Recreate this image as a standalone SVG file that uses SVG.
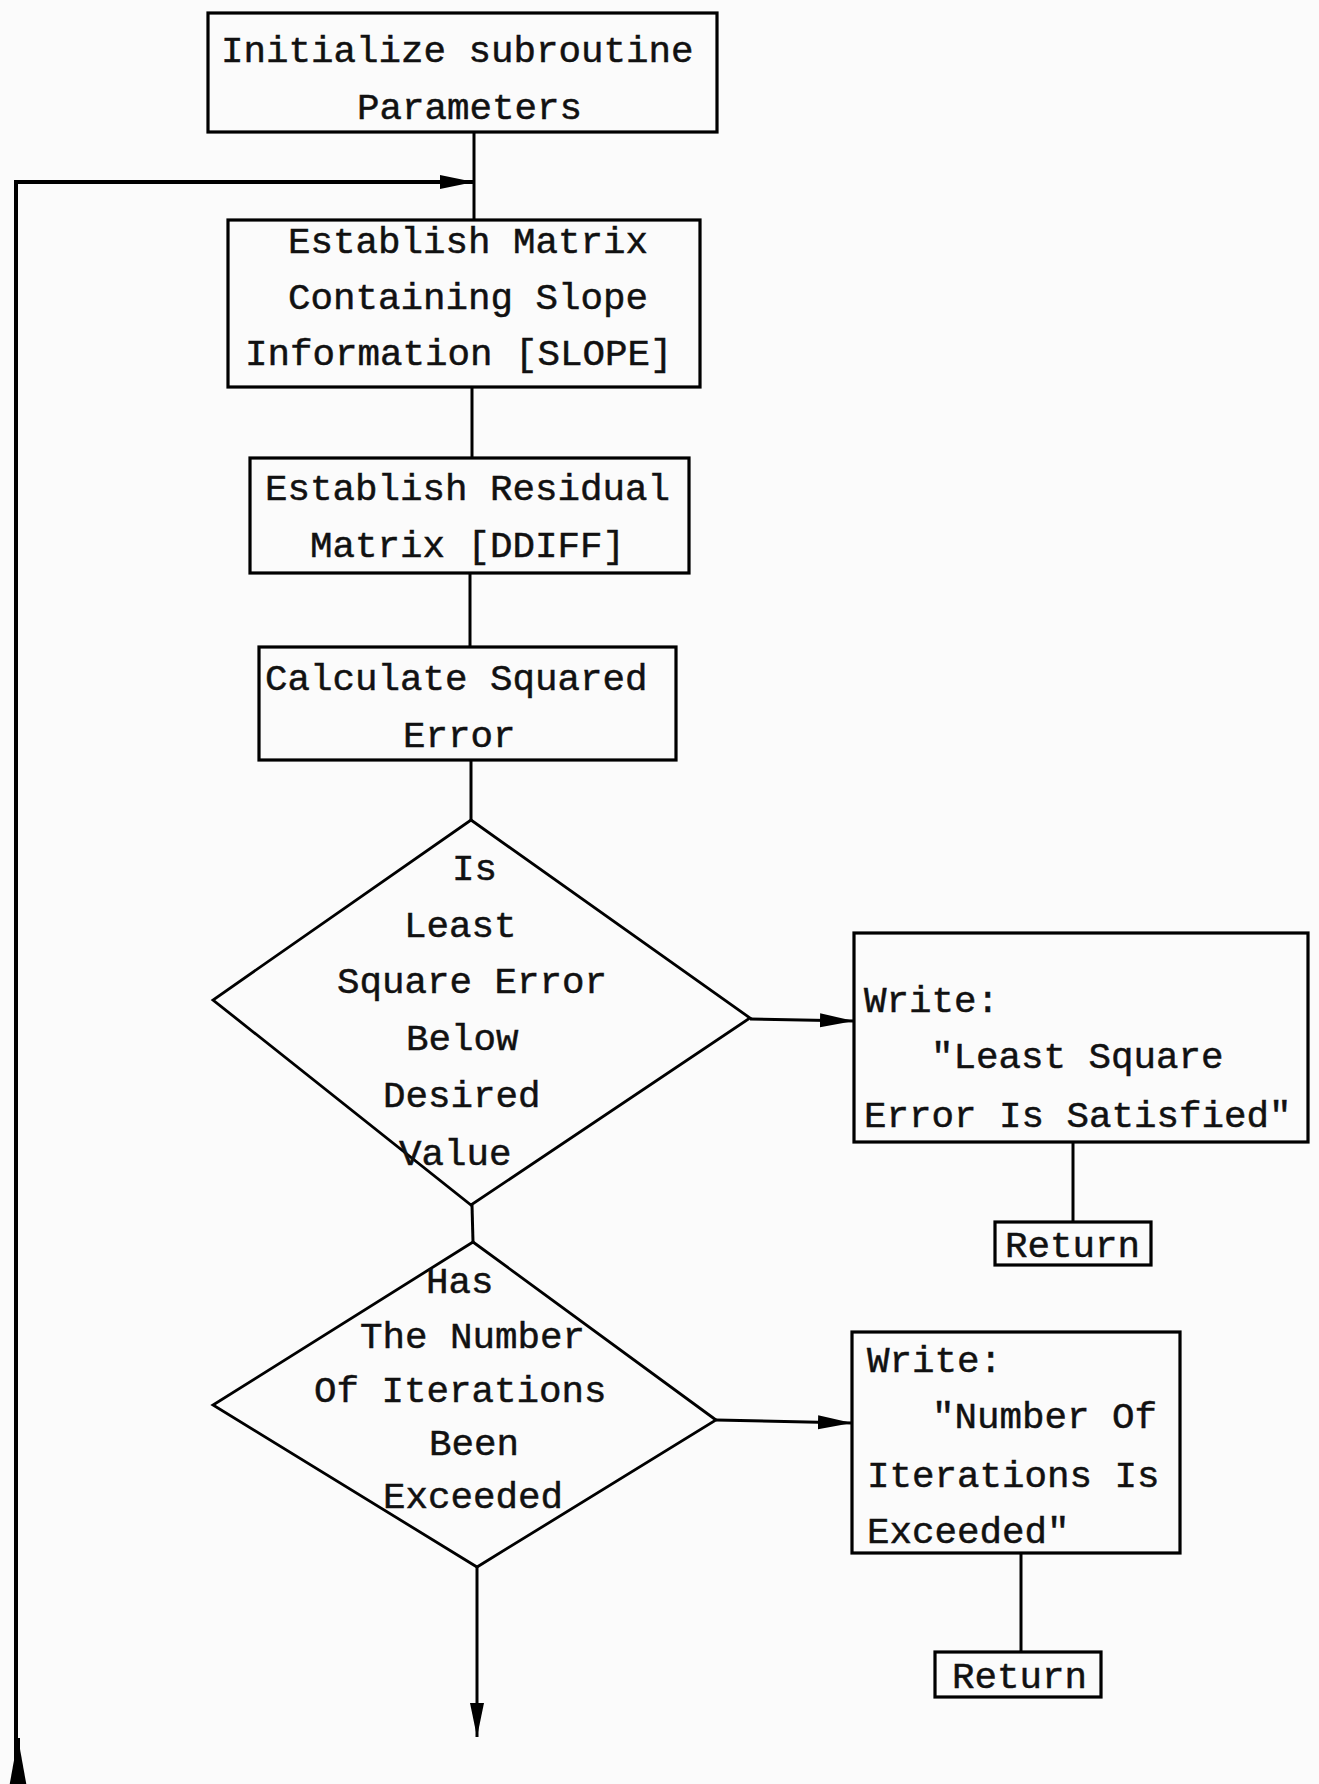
<svg xmlns="http://www.w3.org/2000/svg" width="1319" height="1784" viewBox="0 0 1319 1784">
<defs>
<marker id="arr" markerUnits="userSpaceOnUse" markerWidth="36" markerHeight="16" refX="34" refY="7" orient="auto">
<path d="M0,0 L34,7 L0,14 z" fill="#000"/>
</marker>
<marker id="arrBig" markerUnits="userSpaceOnUse" markerWidth="52" markerHeight="20" refX="50" refY="9" orient="auto">
<path d="M0,0 L50,9 L0,18 z" fill="#000"/>
</marker>
</defs>
<style>
.box{fill:none;stroke:#000;stroke-width:3.2}
.dia{fill:none;stroke:#000;stroke-width:2.8}
.ln{fill:none;stroke:#000;stroke-width:3}
text{font-family:"Liberation Mono","DejaVu Sans Mono",monospace;font-size:37.5px;fill:#111;stroke:#111;stroke-width:0.5}
</style>
<rect x="0" y="0" width="1319" height="1784" fill="#fbfbfb"/>

<g id="connectors">
<path class="ln" d="M474,132 L474,220"/>
<path class="ln" d="M472,387 L472,458"/>
<path class="ln" d="M470,573 L470,647"/>
<path class="ln" d="M471,760 L471,820"/>
<path class="ln" d="M472,1205 L473,1242"/>
<path class="ln" d="M750,1019 L854,1021" marker-end="url(#arr)"/>
<path class="ln" d="M716,1420 L852,1423" marker-end="url(#arr)"/>
<path class="ln" d="M1073,1142 L1073,1222"/>
<path class="ln" d="M1021,1553 L1021,1652"/>
<path class="ln" d="M477,1567 L477,1737" marker-end="url(#arr)"/>
<path class="ln" style="stroke-width:4" d="M16,1784 L16,182 L474,182" marker-end="url(#arr)"/>
<path class="ln" style="stroke-width:4" d="M18,1790 L18,1738" marker-end="url(#arrBig)"/>
</g>

<g id="init">
<rect class="box" x="208" y="13" width="509" height="119"/>
<text x="221" y="62">Initialize subroutine</text>
<text x="357" y="119">Parameters</text>
</g>

<g id="slope">
<rect class="box" x="228" y="220" width="472" height="167"/>
<text x="288" y="253">Establish Matrix</text>
<text x="288" y="309">Containing Slope</text>
<text x="245" y="365">Information [SLOPE]</text>
</g>

<g id="residual">
<rect class="box" x="250" y="458" width="439" height="115"/>
<text x="265" y="500">Establish Residual</text>
<text x="310" y="557">Matrix [DDIFF]</text>
</g>

<g id="squared">
<rect class="box" x="259" y="647" width="417" height="113"/>
<text x="265" y="690">Calculate Squared</text>
<text x="403" y="747">Error</text>
</g>

<g id="decision1">
<polygon class="dia" points="471,820 750,1018 471,1205 213,1000"/>
<text x="452" y="880">Is</text>
<text x="404" y="937">Least</text>
<text x="337" y="993">Square Error</text>
<text x="406" y="1050">Below</text>
<text x="383" y="1107">Desired</text>
<text x="399" y="1165">Value</text>
</g>

<g id="decision2">
<polygon class="dia" points="473,1242 716,1420 477,1567 213,1405"/>
<text x="426" y="1293">Has</text>
<text x="360" y="1348">The Number</text>
<text x="314" y="1402">Of Iterations</text>
<text x="429" y="1455">Been</text>
<text x="383" y="1508">Exceeded</text>
</g>

<g id="write1">
<rect class="box" x="854" y="933" width="454" height="209"/>
<text x="864" y="1012">Write:</text>
<text x="931" y="1068">"Least Square</text>
<text x="864" y="1127">Error Is Satisfied"</text>
</g>

<g id="return1">
<rect class="box" x="995" y="1222" width="156" height="43"/>
<text x="1005" y="1257">Return</text>
</g>

<g id="write2">
<rect class="box" x="852" y="1332" width="328" height="221"/>
<text x="867" y="1372">Write:</text>
<text x="932" y="1428">"Number Of</text>
<text x="867" y="1487">Iterations Is</text>
<text x="867" y="1543">Exceeded"</text>
</g>

<g id="return2">
<rect class="box" x="935" y="1652" width="166" height="45"/>
<text x="952" y="1688">Return</text>
</g>
</svg>
